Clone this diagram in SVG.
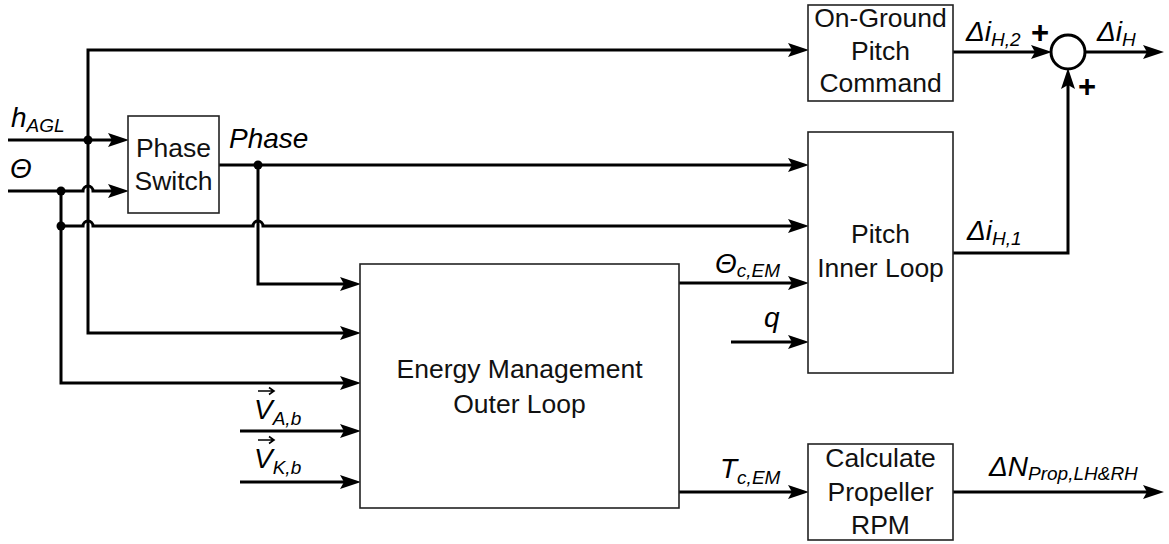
<svg xmlns="http://www.w3.org/2000/svg" width="1169" height="544" viewBox="0 0 1169 544">
<defs>
<style>
.box{fill:#fff;stroke:#222;stroke-width:1.6}
.ln{fill:none;stroke:#000;stroke-width:3;stroke-linejoin:miter}
.lb{font-family:"Liberation Sans",Arial,sans-serif;font-size:26.5px;fill:#111;text-anchor:middle}
.it{font-family:"Liberation Sans",Arial,sans-serif;font-size:28px;font-style:italic;fill:#000}
.sub{font-size:19px}
.pl{font-family:"Liberation Sans",Arial,sans-serif;font-size:31px;font-weight:bold;fill:#000}
</style>
<marker id="ar" markerUnits="userSpaceOnUse" markerWidth="21" markerHeight="14" refX="10" refY="7" orient="auto">
<path d="M0,0 L21,7 L0,14 L4,7 z" fill="#000"/>
</marker>
</defs>
<rect width="1169" height="544" fill="#fff"/>

<g id="connectors">
<path class="ln" d="M8,140 H118" marker-end="url(#ar)"/>
<path class="ln" d="M88,140 V50 H798" marker-end="url(#ar)"/>
<path class="ln" d="M88,140 V333 H350" marker-end="url(#ar)"/>
<path class="ln" d="M8,191 H83 A5,5 0 0 1 93,191 H118" marker-end="url(#ar)"/>
<path class="ln" d="M61,191 V383 H350" marker-end="url(#ar)"/>
<path class="ln" d="M61,226 H83 A5,5 0 0 1 93,226 H253 A5,5 0 0 1 263,226 H798" marker-end="url(#ar)"/>
<path class="ln" d="M219,165 H798" marker-end="url(#ar)"/>
<path class="ln" d="M258,165 V284 H350" marker-end="url(#ar)"/>
<path class="ln" d="M240,431 H350" marker-end="url(#ar)"/>
<path class="ln" d="M240,482 H350" marker-end="url(#ar)"/>
<path class="ln" d="M679,283 H798" marker-end="url(#ar)"/>
<path class="ln" d="M731,342 H798" marker-end="url(#ar)"/>
<path class="ln" d="M679,492 H798" marker-end="url(#ar)"/>
<path class="ln" d="M953,52 H1041" marker-end="url(#ar)"/>
<path class="ln" d="M1085,52 H1153" marker-end="url(#ar)"/>
<path class="ln" d="M953,253 H1068 V79" marker-end="url(#ar)"/>
<path class="ln" d="M953,492 H1153" marker-end="url(#ar)"/>
<circle cx="88" cy="140" r="4.5" fill="#000"/>
<circle cx="61" cy="191" r="4.5" fill="#000"/>
<circle cx="61" cy="226" r="4.5" fill="#000"/>
<circle cx="258" cy="165" r="4.5" fill="#000"/>
</g>

<g id="phase-switch">
<rect class="box" x="128" y="116" width="91" height="97"/>
<text class="lb" x="173.5" y="157">Phase</text>
<text class="lb" x="173.5" y="190">Switch</text>
</g>

<g id="on-ground">
<rect class="box" x="808" y="5" width="145" height="96"/>
<text class="lb" x="880.5" y="27">On-Ground</text>
<text class="lb" x="880.5" y="60">Pitch</text>
<text class="lb" x="880.5" y="92">Command</text>
</g>

<g id="pitch-inner">
<rect class="box" x="808" y="132" width="145" height="241"/>
<text class="lb" x="880.5" y="243">Pitch</text>
<text class="lb" x="880.5" y="277">Inner Loop</text>
</g>

<g id="energy-mgmt">
<rect class="box" x="360" y="264" width="319" height="244"/>
<text class="lb" x="519.5" y="378">Energy Management</text>
<text class="lb" x="519.5" y="413">Outer Loop</text>
</g>

<g id="calc-rpm">
<rect class="box" x="808" y="444" width="145" height="96"/>
<text class="lb" x="880.5" y="467">Calculate</text>
<text class="lb" x="880.5" y="501">Propeller</text>
<text class="lb" x="880.5" y="534">RPM</text>
</g>

<g id="sum">
<circle cx="1068" cy="52" r="17" fill="#fff" stroke="#000" stroke-width="3"/>
<text class="pl" x="1031" y="43">+</text>
<text class="pl" x="1078" y="97">+</text>
</g>

<g id="labels">
<text class="it" x="11" y="127">h<tspan class="sub" dy="5">AGL</tspan></text>
<text class="it" x="10" y="178">Θ</text>
<text class="it" x="229" y="148">Phase</text>
<text class="it" x="254" y="419">V<tspan class="sub" dy="6">A,b</tspan></text>
<text class="it" x="254" y="468">V<tspan class="sub" dy="6">K,b</tspan></text>
<text class="it" x="715" y="273">Θ<tspan class="sub" dy="4">c,EM</tspan></text>
<text class="it" x="764" y="327">q</text>
<text class="it" x="720" y="478">T<tspan class="sub" dy="6">c,EM</tspan></text>
<text class="it" x="989" y="476">ΔN<tspan class="sub" dy="4">Prop,LH&amp;RH</tspan></text>
<text class="it" x="966" y="41">Δi<tspan class="sub" dy="5">H,2</tspan></text>
<text class="it" x="1097" y="41">Δi<tspan class="sub" dy="5">H</tspan></text>
<text class="it" x="967" y="240">Δi<tspan class="sub" dy="5">H,1</tspan></text>
<path d="M258,391 H273 M269,387.5 L274,391 L269,394.5" fill="none" stroke="#000" stroke-width="1.6"/>
<path d="M258,440 H273 M269,436.5 L274,440 L269,443.5" fill="none" stroke="#000" stroke-width="1.6"/>
</g>
</svg>
